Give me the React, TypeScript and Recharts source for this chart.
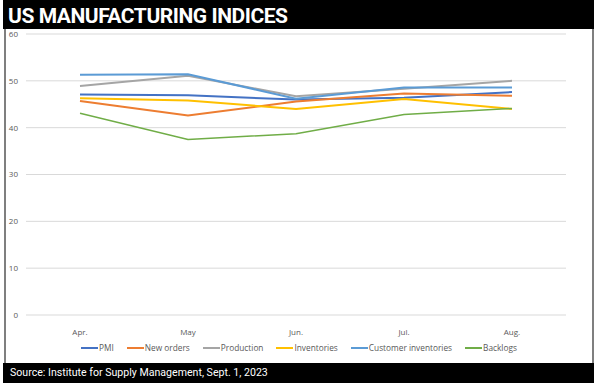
import React from 'react';
import { LineChart, Line, XAxis, YAxis, CartesianGrid, Legend } from 'recharts';

const months = ['Apr.', 'May', 'Jun.', 'Jul.', 'Aug.'];
const pmi = [47.1, 46.9, 46.0, 46.4, 47.6];
const newOrders = [45.7, 42.6, 45.6, 47.3, 46.8];
const production = [48.9, 51.1, 46.7, 48.3, 50.0];
const inventories = [46.3, 45.8, 44.0, 46.1, 44.0];
const customerInventories = [51.3, 51.4, 46.2, 48.6, 48.6];
const backlogs = [43.1, 37.5, 38.7, 42.8, 44.1];
const yTicks = [0, 10, 20, 30, 40, 50, 60];

const seriesDefs = [
  { key: 'pmi', name: 'PMI', values: pmi, color: '#4472C4', width: 2 },
  { key: 'newOrders', name: 'New orders', values: newOrders, color: '#ED7D31', width: 2 },
  { key: 'production', name: 'Production', values: production, color: '#A5A5A5', width: 2 },
  { key: 'inventories', name: 'Inventories', values: inventories, color: '#FFC000', width: 2 },
  { key: 'customerInventories', name: 'Customer inventories', values: customerInventories, color: '#5B9BD5', width: 2 },
  { key: 'backlogs', name: 'Backlogs', values: backlogs, color: '#70AD47', width: 1.5 },
];

const data = months.map((m, i) => {
  const row: Record<string, any> = { month: m };
  seriesDefs.forEach((s) => {
    row[s.key] = s.values[i];
  });
  return row;
});

const FONT = '"Open Sans", "Liberation Sans", sans-serif';

const renderLegend = () => (
  <div
    style={{
      display: 'flex',
      justifyContent: 'center',
      alignItems: 'center',
      gap: 13,
      fontFamily: FONT,
      fontSize: 8.3,
      color: '#595959',
      height: 14,
      paddingTop: 3,
      boxSizing: 'border-box',
    }}
  >
    {seriesDefs.map((s) => (
      <div key={s.key} style={{ display: 'flex', alignItems: 'center' }}>
        <svg width={17} height={4} style={{ display: 'block' }}>
          <line x1={0} y1={2} x2={17} y2={2} stroke={s.color} strokeWidth={2} />
        </svg>
        <span style={{ marginLeft: 1 }}>{s.name}</span>
      </div>
    ))}
  </div>
);

export default function App() {
  return (
    <div
      style={{
        position: 'absolute',
        left: 0,
        top: 0,
        width: 594,
        height: 383,
        background: '#fff',
        overflow: 'hidden',
      }}
    >
      <div
        style={{
          position: 'absolute',
          left: 3,
          top: 0,
          width: 591,
          height: 29,
          background: '#000',
          color: '#fff',
          fontFamily: 'Roboto, sans-serif',
          fontWeight: 700,
          fontSize: 21,
          lineHeight: '32px',
          paddingLeft: 5,
          boxSizing: 'border-box',
          letterSpacing: -0.45,
        }}
      >
        US MANUFACTURING INDICES
      </div>
      <div style={{ position: 'absolute', left: 4, top: 29, width: 2, height: 334, background: '#7f7f7f' }} />
      <div style={{ position: 'absolute', left: 592, top: 29, width: 2, height: 334, background: '#7f7f7f' }} />
      <div style={{ position: 'absolute', left: 6, top: 29 }}>
        <LineChart
          width={586}
          height={334}
          data={data}
          margin={{ top: 5, right: 26, left: 0, bottom: 10 }}
        >
          <CartesianGrid horizontal vertical={false} stroke="#d9d9d9" strokeWidth={1} />
          <XAxis
            dataKey="month"
            axisLine={false}
            tickLine={false}
            padding={{ left: 54, right: 54 }}
            tick={{ fill: '#595959', fontSize: 8, fontFamily: FONT }}
            height={24}
            tickMargin={8}
          />
          <YAxis
            domain={[0, 60]}
            ticks={yTicks}
            axisLine={false}
            tickLine={false}
            width={20}
            tick={{ fill: '#595959', fontSize: 8, fontFamily: FONT }}
          />
          <Legend verticalAlign="bottom" content={renderLegend} wrapperStyle={{ left: 0, width: 586 }} />
          {seriesDefs.map((s) => (
            <Line
              key={s.key}
              type="linear"
              dataKey={s.key}
              name={s.name}
              stroke={s.color}
              strokeWidth={s.width}
              dot={false}
              isAnimationActive={false}
            />
          ))}
        </LineChart>
      </div>
      <div
        style={{
          position: 'absolute',
          left: 3,
          top: 363,
          width: 591,
          height: 20,
          background: '#000',
          color: '#fff',
          fontFamily: 'Roboto, sans-serif',
          fontSize: 10.6,
          lineHeight: '20px',
          paddingLeft: 7,
          boxSizing: 'border-box',
        }}
      >
        Source: Institute for Supply Management, Sept. 1, 2023
      </div>
    </div>
  );
}
